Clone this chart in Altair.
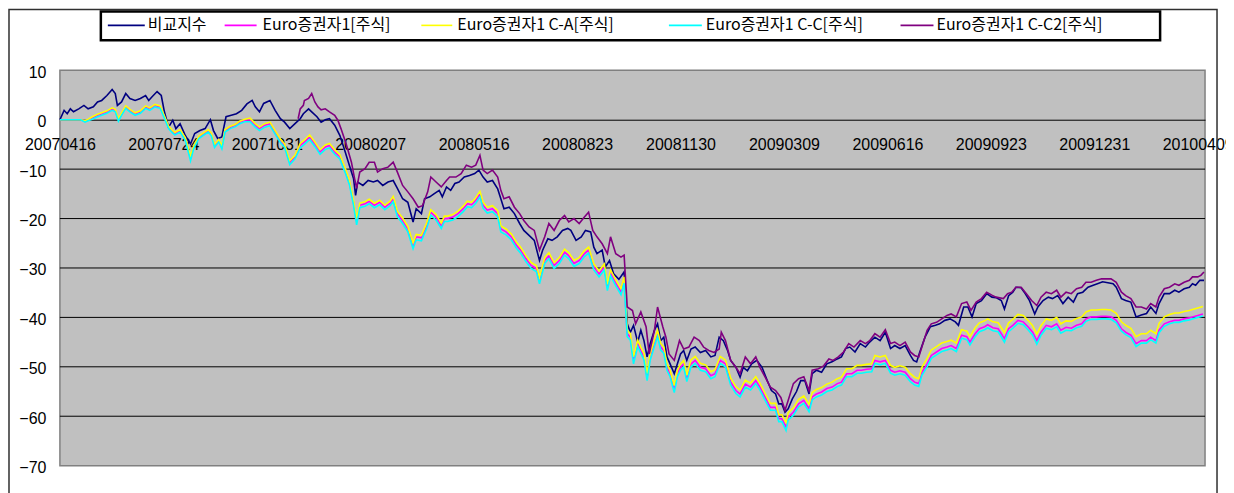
import altair as alt
import pandas as pd

# ---------------- data ----------------
START = "2007-04-16"
END_DAYS = 1096

SERIES = ["비교지수", "Euro증권자1[주식]", "Euro증권자1 C-A[주식]",
          "Euro증권자1 C-C[주식]", "Euro증권자1 C-C2[주식]"]
COLORS = ["#000080", "#FF00FF", "#FFFF00", "#00FFFF", "#800080"]

X_LABELS = ["20070416", "20070724", "20071031", "20080207", "20080516", "20080823",
            "20081130", "20090309", "20090616", "20090923", "20091231", "20100409"]
Y_TICKS = [10, 0, -10, -20, -30, -40, -50, -60, -70]
GRID_Y = [-10, -20, -30, -40, -50, -60]

# 비교지수 (days since START, value %)
NAVY_DAYS = [
    0, 4, 7, 10, 13, 18, 23, 27, 32, 36,
    40, 45, 50, 53, 55, 59, 63, 67, 72, 77,
    82, 85, 88, 93, 97, 100, 104, 108, 111, 115,
    120, 125, 129, 134, 139, 144, 147, 151, 155, 159,
    164, 169, 174, 179, 184, 187, 191, 195, 201, 206,
    211, 215, 220, 225, 230, 233, 238, 241, 246, 250,
    254, 258, 263, 268, 273, 277, 281, 283, 285, 290,
    295, 300, 304, 309, 314, 319, 323, 328, 333, 338,
    341, 346, 349, 354, 358, 363, 366, 370, 374, 378,
    382, 387, 392, 397, 401, 405, 409, 414, 419, 422,
    425, 430, 435, 440, 444, 449, 454, 459, 462, 467,
    471, 476, 481, 486, 489, 494, 499, 503, 508, 511,
    514, 519, 522, 526, 530, 535, 540, 543, 546, 549,
    553, 556, 559, 562, 565, 569, 572, 575, 578, 581,
    584, 588, 591, 594, 597, 600, 604, 608, 613, 618,
    623, 627, 631, 635, 639, 642, 647, 651, 654, 658,
    662, 667, 672, 677, 681, 685, 688, 691, 694, 697,
    701, 705, 709, 713, 717, 720, 724, 729, 734, 739,
    744, 748, 752, 756, 761, 766, 771, 775, 780, 785,
    790, 795, 799, 804, 809, 814, 817, 820, 823, 828,
    833, 838, 842, 847, 852, 857, 860, 865, 869, 873,
    877, 882, 887, 892, 896, 901, 904, 908, 912, 915,
    920, 923, 928, 933, 936, 941, 946, 950, 955, 960,
    965, 970, 974, 979, 984, 989, 993, 998, 1003, 1008,
    1011, 1016, 1020, 1025, 1030, 1035, 1040, 1044, 1049, 1052,
    1057, 1062, 1067, 1071, 1076, 1081, 1084, 1087, 1091, 1095,
]
NAVY_VALS = [
    0.0, 1.9, 1.2, 2.2, 1.6, 2.2, 2.9, 2.2, 2.6, 3.6,
    3.9, 4.9, 6.1, 5.3, 2.9, 3.6, 5.3, 4.3, 3.9, 4.3,
    4.9, 3.9, 4.6, 5.7, 4.9, 1.6, -1.5, -0.1, -1.8, -0.8,
    -3.2, -4.9, -2.8, -2.2, -1.8, 0.0, -2.2, -3.8, -3.5, 0.6,
    0.9, 1.2, 1.9, 3.2, 3.9, 2.6, 1.6, 3.3, 3.9, 1.9,
    0.2, -0.5, -1.8, -0.8, 0.2, 1.2, 2.2, 1.6, 0.6, -0.5,
    0.0, 0.2, -1.1, -3.2, -6.5, -9.2, -11.9, -15.3, -12.6, -13.3,
    -12.3, -12.6, -12.3, -13.3, -12.6, -12.3, -13.9, -16.0, -16.7, -20.7,
    -18.0, -19.0, -16.0, -15.6, -15.0, -14.3, -15.6, -13.6, -14.3, -12.9,
    -12.6, -11.6, -11.3, -10.9, -10.2, -11.6, -12.6, -12.3, -14.0, -16.0,
    -18.0, -17.7, -19.0, -21.0, -22.4, -23.4, -24.4, -28.5, -26.4, -24.1,
    -24.4, -23.7, -22.4, -22.0, -22.4, -24.4, -23.7, -22.4, -22.7, -25.8,
    -27.1, -26.4, -29.8, -28.5, -31.2, -32.3, -30.8, -41.3, -43.0, -41.6,
    -45.0, -42.6, -44.7, -48.0, -45.3, -42.6, -41.3, -44.7, -44.0, -48.0,
    -49.4, -51.4, -49.4, -47.4, -46.7, -48.7, -46.4, -46.0, -47.1, -46.7,
    -48.0, -47.7, -44.0, -44.7, -46.7, -48.7, -50.1, -52.1, -50.1, -50.8,
    -49.4, -48.7, -50.1, -52.8, -54.8, -55.5, -57.5, -57.5, -59.2, -58.5,
    -56.5, -55.0, -52.8, -52.8, -55.5, -51.4, -50.7, -51.1, -49.4, -49.0,
    -48.4, -48.0, -46.3, -46.0, -47.0, -45.3, -46.0, -45.0, -44.0, -44.7,
    -43.0, -46.3, -45.7, -46.3, -45.7, -47.7, -48.7, -49.0, -47.0, -44.0,
    -41.9, -41.6, -41.3, -40.6, -40.3, -40.9, -41.6, -37.9, -37.9, -39.9,
    -37.2, -36.6, -35.2, -35.9, -36.0, -36.6, -38.3, -35.6, -34.9, -33.9,
    -34.0, -34.9, -36.6, -39.3, -37.9, -36.6, -35.9, -36.2, -35.6, -37.2,
    -35.9, -36.9, -35.2, -34.9, -33.9, -33.5, -33.2, -32.8, -33.0, -33.2,
    -33.9, -36.2, -36.6, -36.9, -39.9, -39.5, -39.2, -37.9, -39.2, -37.2,
    -35.2, -35.2, -34.5, -34.9, -34.2, -33.9, -33.2, -33.5, -32.5, -32.5,
]

# Euro증권자1 classes (shared days)
FUND_DAYS = [
    0, 20, 24, 27, 31, 36, 40, 45, 50, 53,
    56, 59, 63, 67, 72, 77, 82, 86, 91, 96,
    100, 104, 107, 110, 115, 120, 125, 128, 133, 137,
    142, 145, 148, 152, 155, 158, 163, 168, 172, 177,
    182, 187, 191, 196, 201, 206, 211, 215, 220, 225,
    230, 234, 239, 244, 249, 254, 258, 263, 268, 273,
    277, 281, 284, 287, 292, 296, 301, 306, 311, 316,
    319, 323, 328, 333, 338, 341, 346, 351, 355, 360,
    365, 368, 371, 376, 381, 386, 390, 394, 398, 402,
    405, 409, 414, 419, 422, 427, 432, 437, 441, 446,
    451, 456, 459, 464, 468, 473, 478, 483, 487, 492,
    497, 502, 506, 511, 516, 521, 524, 527, 532, 537,
    540, 543, 546, 549, 553, 556, 559, 562, 565, 569,
    572, 575, 578, 581, 584, 588, 591, 594, 597, 600,
    604, 608, 613, 618, 623, 627, 632, 637, 642, 647,
    651, 656, 661, 666, 670, 675, 680, 685, 688, 691,
    695, 697, 702, 707, 712, 717, 720, 724, 729, 734,
    739, 744, 748, 753, 758, 763, 767, 772, 777, 780,
    785, 790, 795, 799, 804, 809, 814, 818, 822, 825,
    830, 834, 839, 844, 849, 853, 858, 863, 868, 871,
    876, 880, 885, 888, 893, 898, 904, 908, 912, 917,
    922, 927, 931, 935, 939, 944, 949, 954, 958, 963,
    968, 973, 978, 982, 987, 992, 997, 1001, 1006, 1011,
    1016, 1020, 1025, 1030, 1035, 1040, 1044, 1049, 1052, 1057,
    1062, 1067, 1071, 1076, 1081, 1084, 1089, 1094,
]
FUND_VALS = [
    0.0, 0.0, -0.3, 0.0, 0.4, 0.9, 1.2, 1.6, 2.2, 1.9,
    0.0, 1.2, 2.6, 1.9, 1.2, 1.6, 2.6, 2.2, 2.9, 2.6,
    0.6, -1.5, -2.2, -2.8, -2.2, -3.8, -7.6, -5.5, -3.5, -2.9,
    -2.2, -2.9, -5.2, -4.2, -5.5, -2.2, -1.5, -1.1, -0.5, -0.1,
    0.0, -1.1, -1.8, -1.1, -0.8, -2.5, -4.2, -5.2, -8.6, -7.5,
    -5.2, -4.5, -3.5, -4.9, -6.5, -5.5, -5.2, -6.5, -7.5, -10.2,
    -12.6, -16.7, -20.5, -17.3, -17.0, -16.5, -17.3, -16.7, -17.7, -16.9,
    -16.0, -19.0, -20.4, -22.1, -25.4, -23.7, -23.9, -21.4, -18.7, -19.7,
    -21.4, -20.0, -20.0, -19.7, -19.0, -18.0, -17.0, -17.2, -16.3, -15.0,
    -17.3, -18.3, -18.0, -19.0, -22.1, -22.7, -23.7, -25.4, -26.4, -28.1,
    -29.5, -30.1, -32.5, -28.5, -27.5, -29.5, -28.5, -26.8, -27.5, -29.1,
    -28.5, -27.1, -26.4, -29.8, -31.2, -29.8, -33.9, -31.0, -33.0, -34.8,
    -32.5, -43.3, -44.0, -48.7, -45.3, -46.7, -48.0, -52.1, -48.0, -45.3,
    -43.3, -46.0, -46.7, -50.1, -51.4, -54.5, -51.4, -50.1, -49.4, -52.4,
    -49.4, -48.7, -50.1, -50.4, -51.8, -51.4, -48.7, -49.4, -53.1, -54.8,
    -55.5, -53.5, -54.1, -52.8, -54.1, -56.2, -58.2, -58.2, -60.5, -60.5,
    -62.2, -60.2, -59.2, -57.5, -56.8, -58.5, -56.1, -55.5, -55.1, -54.4,
    -54.1, -53.4, -53.1, -51.4, -51.4, -50.7, -50.7, -50.5, -50.4, -48.7,
    -49.0, -48.7, -50.7, -51.1, -50.8, -51.1, -52.4, -53.1, -53.4, -51.1,
    -49.4, -47.7, -47.0, -46.3, -46.0, -45.7, -46.3, -43.6, -43.9, -45.0,
    -43.3, -42.3, -41.9, -41.5, -42.1, -42.3, -44.3, -42.3, -41.6, -40.6,
    -40.9, -42.0, -43.0, -44.7, -43.0, -41.6, -41.9, -41.3, -42.6, -42.0,
    -42.2, -41.6, -41.3, -40.3, -39.9, -39.9, -39.8, -39.8, -39.9, -40.6,
    -42.3, -43.0, -43.6, -45.3, -44.7, -44.7, -44.0, -44.7, -42.6, -41.3,
    -40.9, -40.6, -40.6, -40.3, -40.1, -39.9, -39.6, -39.3,
]
CA_VALS = [
    0.0, 0.0, -0.2, 0.1, 0.6, 1.1, 1.4, 1.8, 2.4, 2.1,
    0.2, 1.4, 2.8, 2.1, 1.4, 1.8, 2.8, 2.4, 3.1, 2.8,
    0.8, -1.3, -2.0, -2.6, -2.0, -3.6, -7.3, -5.3, -3.3, -2.7,
    -2.0, -2.7, -5.0, -4.0, -5.3, -2.0, -1.3, -0.9, -0.3, 0.1,
    0.3, -0.8, -1.5, -0.8, -0.5, -2.2, -3.9, -4.9, -8.3, -7.2,
    -4.8, -4.1, -3.1, -4.5, -6.1, -5.1, -4.8, -6.1, -7.1, -9.8,
    -12.2, -16.3, -20.0, -16.9, -16.6, -16.1, -16.9, -16.3, -17.3, -16.5,
    -15.5, -18.5, -19.9, -21.6, -24.9, -23.2, -23.4, -20.9, -18.2, -19.2,
    -20.9, -19.5, -19.5, -19.2, -18.5, -17.5, -16.5, -16.7, -15.8, -14.5,
    -16.7, -17.7, -17.4, -18.4, -21.5, -22.1, -23.1, -24.8, -25.8, -27.5,
    -28.9, -29.5, -31.9, -27.9, -26.9, -28.9, -27.9, -26.2, -26.9, -28.5,
    -27.9, -26.5, -25.8, -29.2, -30.6, -29.2, -33.3, -30.4, -32.4, -34.2,
    -31.8, -42.6, -43.3, -48.0, -44.6, -46.0, -47.3, -51.4, -47.3, -44.6,
    -42.6, -45.3, -46.0, -49.4, -50.7, -53.8, -50.7, -49.4, -48.7, -51.7,
    -48.6, -47.9, -49.3, -49.6, -51.0, -50.6, -47.9, -48.6, -52.3, -54.0,
    -54.7, -52.7, -53.3, -52.0, -53.3, -55.4, -57.4, -57.4, -59.7, -59.7,
    -61.3, -59.3, -58.3, -56.6, -55.9, -57.6, -55.2, -54.6, -54.2, -53.5,
    -53.1, -52.4, -52.1, -50.4, -50.4, -49.7, -49.7, -49.5, -49.4, -47.7,
    -48.0, -47.7, -49.7, -50.1, -49.8, -50.1, -51.4, -52.1, -52.4, -50.1,
    -48.3, -46.6, -45.9, -45.2, -44.9, -44.6, -45.2, -42.5, -42.8, -43.9,
    -42.1, -41.1, -40.7, -40.3, -40.9, -41.1, -43.1, -41.1, -40.4, -39.4,
    -39.6, -40.7, -41.7, -43.4, -41.7, -40.3, -40.6, -40.0, -41.3, -40.7,
    -40.8, -40.2, -39.9, -38.9, -38.5, -38.5, -38.4, -38.4, -38.5, -39.2,
    -40.9, -41.6, -42.2, -43.9, -43.3, -43.3, -42.6, -43.3, -41.2, -39.9,
    -39.4, -39.1, -39.1, -38.8, -38.6, -38.4, -38.1, -37.8,
]
CC_VALS = [
    0.0, 0.0, -0.5, -0.2, 0.1, 0.6, 0.9, 1.3, 1.9, 1.6,
    -0.3, 0.9, 2.3, 1.6, 0.9, 1.3, 2.3, 1.9, 2.6, 2.3,
    0.3, -1.8, -2.5, -3.1, -2.5, -4.2, -8.3, -5.9, -3.8, -3.2,
    -2.5, -3.3, -5.6, -4.5, -5.9, -2.5, -1.8, -1.4, -0.8, -0.4,
    -0.4, -1.5, -2.2, -1.5, -1.2, -2.9, -4.6, -5.6, -9.1, -7.9,
    -5.7, -5.0, -4.0, -5.4, -7.0, -6.0, -5.7, -7.0, -8.0, -10.7,
    -13.1, -17.3, -21.3, -17.8, -17.5, -17.0, -17.8, -17.2, -18.2, -17.4,
    -16.6, -19.6, -21.0, -22.7, -26.1, -24.3, -24.5, -22.0, -19.3, -20.3,
    -22.0, -20.6, -20.6, -20.3, -19.6, -18.6, -17.6, -17.8, -16.9, -15.6,
    -17.9, -18.9, -18.6, -19.6, -22.7, -23.3, -24.3, -26.0, -27.0, -28.7,
    -30.1, -30.7, -33.2, -29.1, -28.1, -30.1, -29.1, -27.4, -28.1, -29.7,
    -29.1, -27.7, -27.0, -30.4, -31.8, -30.4, -34.6, -31.6, -33.6, -35.4,
    -33.1, -43.9, -44.6, -49.4, -45.9, -47.3, -48.6, -52.8, -48.6, -45.9,
    -43.9, -46.6, -47.3, -50.7, -52.0, -55.2, -52.0, -50.7, -50.0, -53.0,
    -50.0, -49.3, -50.7, -51.0, -52.4, -52.0, -49.3, -50.0, -53.7, -55.4,
    -56.1, -54.1, -54.7, -53.4, -54.7, -56.8, -58.8, -58.8, -61.1, -61.1,
    -62.9, -60.8, -59.8, -58.1, -57.4, -59.1, -56.7, -56.1, -55.7, -55.0,
    -54.7, -54.0, -53.7, -52.0, -52.0, -51.3, -51.3, -51.1, -51.0, -49.3,
    -49.6, -49.3, -51.3, -51.7, -51.4, -51.7, -53.0, -53.7, -54.0, -51.7,
    -50.0, -48.3, -47.6, -46.9, -46.6, -46.3, -46.9, -44.2, -44.5, -45.6,
    -43.9, -42.9, -42.5, -42.1, -42.7, -42.9, -45.0, -42.9, -42.2, -41.2,
    -41.5, -42.6, -43.6, -45.4, -43.6, -42.2, -42.5, -41.9, -43.2, -42.6,
    -42.7, -42.1, -41.8, -40.8, -40.4, -40.4, -40.3, -40.3, -40.4, -41.1,
    -42.8, -43.5, -44.1, -45.9, -45.2, -45.2, -44.5, -45.2, -43.1, -41.8,
    -41.3, -41.0, -41.0, -40.7, -40.5, -40.3, -40.0, -39.7,
]

# Euro증권자1 C-C2 (starts later)
C2_DAYS = [
    228, 230, 233, 234, 238, 241, 244, 247, 250, 254,
    258, 263, 266, 269, 274, 279, 282, 284, 287, 292,
    296, 301, 304, 309, 314, 319, 323, 328, 333, 338,
    343, 347, 352, 355, 360, 365, 370, 373, 379, 384,
    389, 394, 398, 402, 405, 409, 414, 419, 422, 425,
    430, 435, 440, 444, 449, 454, 459, 464, 468, 473,
    478, 483, 487, 492, 497, 502, 506, 510, 514, 519,
    524, 527, 532, 537, 540, 543, 548, 551, 556, 561,
    564, 569, 572, 577, 580, 583, 588, 593, 597, 602,
    607, 612, 616, 621, 626, 631, 633, 637, 642, 647,
    651, 656, 661, 666, 670, 675, 680, 685, 690, 694,
    697, 702, 707, 712, 717, 720, 726, 731, 736, 740,
    745, 750, 755, 760, 766, 771, 775, 780, 785, 790,
    795, 799, 804, 809, 814, 818, 822, 825, 830, 834,
    839, 844, 849, 853, 858, 863, 868, 872, 877, 882,
    887, 892, 896, 903, 907, 911, 915, 920, 925, 930,
    935, 939, 944, 949, 954, 958, 963, 968, 973, 978,
    982, 987, 992, 997, 1001, 1006, 1011, 1016, 1020, 1025,
    1030, 1035, 1040, 1044, 1049, 1052, 1057, 1062, 1067, 1071,
    1076, 1081, 1084, 1089, 1092, 1095,
]
C2_VALS = [
    0.2, 2.2, 2.9, 3.9, 4.3, 5.3, 3.6, 2.6, 2.0, 2.2,
    1.6, 0.9, -0.1, -1.8, -4.9, -8.6, -11.9, -13.9, -10.6, -9.9,
    -8.6, -8.6, -10.6, -9.9, -9.6, -8.6, -10.6, -13.3, -14.6, -16.0,
    -17.7, -17.4, -14.6, -11.6, -12.6, -13.6, -12.3, -11.6, -11.6, -10.9,
    -9.2, -9.6, -9.2, -7.2, -10.2, -10.9, -10.2, -11.6, -14.3, -16.0,
    -15.6, -17.7, -19.0, -20.4, -21.7, -22.4, -26.4, -23.7, -21.0, -22.4,
    -20.4, -19.4, -20.7, -20.0, -21.0, -19.7, -18.7, -22.4, -23.7, -25.1,
    -27.1, -23.7, -27.1, -27.8, -27.4, -37.9, -38.6, -41.3, -38.9, -41.9,
    -47.4, -42.6, -37.9, -41.9, -44.0, -47.4, -48.7, -44.7, -46.4, -46.0,
    -44.0, -44.7, -46.0, -46.7, -47.1, -46.4, -43.0, -44.7, -48.7, -50.1,
    -51.4, -48.0, -49.4, -48.0, -50.1, -52.1, -54.1, -54.8, -56.2, -58.8,
    -56.8, -53.4, -52.4, -52.0, -54.8, -50.7, -50.4, -49.8, -48.4, -48.7,
    -48.0, -47.0, -45.3, -46.0, -44.7, -45.3, -44.7, -43.3, -44.0, -42.5,
    -45.3, -45.0, -45.7, -45.0, -47.0, -47.7, -48.0, -46.0, -42.6, -41.3,
    -41.0, -40.3, -39.6, -39.3, -39.9, -37.2, -36.9, -38.6, -36.9, -36.2,
    -34.9, -35.5, -35.9, -36.2, -35.2, -34.9, -33.9, -33.9, -35.2, -36.6,
    -37.6, -35.9, -34.9, -35.2, -34.5, -35.9, -34.9, -35.2, -34.2, -33.9,
    -32.9, -32.9, -32.5, -32.2, -32.2, -32.2, -32.9, -34.9, -35.6, -36.2,
    -37.9, -37.9, -38.3, -37.2, -37.9, -35.9, -34.2, -33.9, -33.2, -33.5,
    -32.9, -32.5, -31.8, -31.8, -31.5, -30.8,
]

# ---------------- layout / style ----------------
W, H = 1147, 396
YMIN, YMAX = -70, 10
AXIS_FONT = "Liberation Sans"
LEGEND_FONT = "Noto Sans CJK KR"
LEGEND_LINE_X = [(48, 85), (165, 197), (362, 393), (610, 643), (842, 875)]
LEGEND_TEXT_X = [88, 203, 398, 647, 878]
LEGEND_Y = -45


def series_frame(days, vals, name):
    assert len(days) == len(vals), (name, len(days), len(vals))
    dates = pd.Timestamp(START) + pd.to_timedelta(days, unit="D")
    return pd.DataFrame({"date": dates.strftime("%Y-%m-%d"), "value": vals})


def utc_dt(ts):
    return alt.DateTime(year=int(ts.year), month=int(ts.month), date=int(ts.day), utc=True)


start_ts = pd.Timestamp(START)
end_ts = start_ts + pd.Timedelta(days=END_DAYS)
tick_dates = [utc_dt(pd.to_datetime(s, format="%Y%m%d")) for s in X_LABELS]

x_axis = alt.Axis(
    values=tick_dates, labelExpr="utcFormat(datum.value, '%Y%m%d')",
    orient="bottom", offset=-H * (0 - YMIN) / (YMAX - YMIN),
    ticks=False, domain=True, domainColor="black", domainWidth=1, grid=False,
    labelFont=AXIS_FONT, labelFontSize=16, labelColor="black", labelPadding=17,
    labelOverlap=False, labelFlush=False, labelBound=False, title=None,
)
y_axis = alt.Axis(
    values=Y_TICKS, format="d", ticks=False, domain=False, grid=False,
    labelFont=AXIS_FONT, labelFontSize=16, labelColor="black", labelPadding=14,
    labelOffset=2, labelOverlap=False, title=None,
)
X = alt.X("date:T", scale=alt.Scale(type="utc", domain=[utc_dt(start_ts), utc_dt(end_ts)]), axis=x_axis)
Y = alt.Y("value:Q", scale=alt.Scale(domain=[YMIN, YMAX], nice=False, zero=False), axis=y_axis)

layers = []
layers.append(
    alt.Chart(pd.DataFrame({"value": GRID_Y})).mark_rule(color="black", strokeWidth=1).encode(y=Y)
)

frames = [
    series_frame(NAVY_DAYS, NAVY_VALS, SERIES[0]),
    series_frame(FUND_DAYS, FUND_VALS, SERIES[1]),
    series_frame(FUND_DAYS, CA_VALS, SERIES[2]),
    series_frame(FUND_DAYS, CC_VALS, SERIES[3]),
    series_frame(C2_DAYS, C2_VALS, SERIES[4]),
]
for df, color in zip(frames, COLORS):
    layers.append(
        alt.Chart(df).mark_line(color=color, strokeWidth=1.6).encode(x=X, y=Y)
    )

one = pd.DataFrame({"k": [0]})
# chart-area frame
layers.append(
    alt.Chart(one).mark_rect(fill="transparent", stroke="#303030", strokeWidth=1.5).encode(
        x=alt.value(-51), x2=alt.value(1159), y=alt.value(-61), y2=alt.value(440)
    )
)
# legend box
layers.append(
    alt.Chart(one).mark_rect(fill="white", stroke="black", strokeWidth=2.5).encode(
        x=alt.value(41), x2=alt.value(1102), y=alt.value(-59), y2=alt.value(-30)
    )
)
for name, color, (x0, x1), tx in zip(SERIES, COLORS, LEGEND_LINE_X, LEGEND_TEXT_X):
    layers.append(
        alt.Chart(one).mark_rule(color=color, strokeWidth=1.6).encode(
            x=alt.value(x0), x2=alt.value(x1), y=alt.value(LEGEND_Y)
        )
    )
    layers.append(
        alt.Chart(one).mark_text(
            text=name, font=LEGEND_FONT, fontSize=16, color="black",
            align="left", baseline="middle",
        ).encode(x=alt.value(tx), y=alt.value(LEGEND_Y))
    )

chart = (
    alt.layer(*layers)
    .properties(
        width=W, height=H,
        padding={"left": 52, "top": 62, "right": 21, "bottom": 30},
        autosize=alt.AutoSizeParams(type="none"),
        background="white",
    )
    .configure_view(fill="#C0C0C0", stroke="#808080", strokeWidth=1.5)
)

chart.save("out.html", embed_options={"renderer": "svg", "actions": False})
